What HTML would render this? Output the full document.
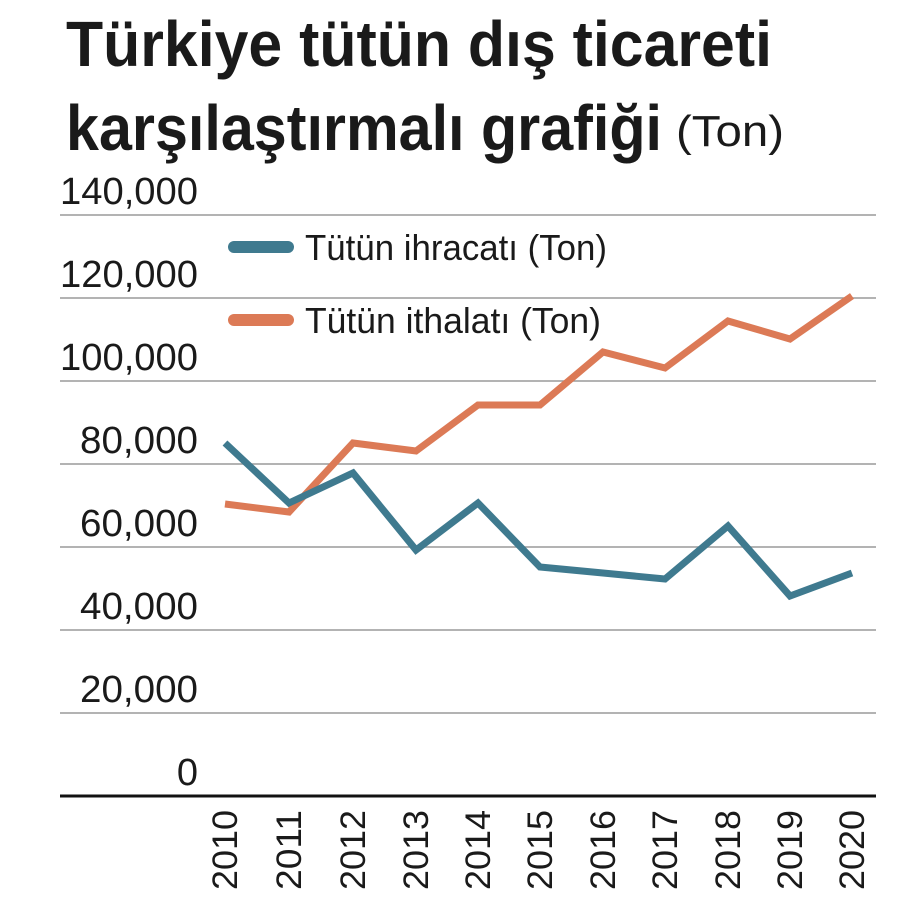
<!DOCTYPE html>
<html><head><meta charset="utf-8"><style>
html,body{margin:0;padding:0;background:#fff;}
svg{display:block;}
text{font-family:"Liberation Sans",sans-serif;fill:#1a1a1a;}
</style></head><body>
<svg width="924" height="902" viewBox="0 0 924 902" xmlns="http://www.w3.org/2000/svg">
<rect width="924" height="902" fill="#fff"/>
<text x="66" y="66" font-size="64" font-weight="bold" textLength="706" lengthAdjust="spacingAndGlyphs">Türkiye tütün dış ticareti</text>
<text x="66" y="150" font-size="64" font-weight="bold" textLength="596" lengthAdjust="spacingAndGlyphs">karşılaştırmalı grafiği</text>
<text x="676" y="146" font-size="44" textLength="108" lengthAdjust="spacingAndGlyphs" fill="#333">(Ton)</text>
<g stroke="#9a9a9a" stroke-width="1.5">
<line x1="60" x2="876" y1="215" y2="215"/>
<line x1="60" x2="876" y1="298" y2="298"/>
<line x1="60" x2="876" y1="381" y2="381"/>
<line x1="60" x2="876" y1="464" y2="464"/>
<line x1="60" x2="876" y1="547" y2="547"/>
<line x1="60" x2="876" y1="630" y2="630"/>
<line x1="60" x2="876" y1="713" y2="713"/>
</g>
<line x1="60" x2="876" y1="796" y2="796" stroke="#111" stroke-width="3"/>
<g font-size="38" text-anchor="end">
<text x="198" y="204" textLength="138" lengthAdjust="spacingAndGlyphs">140,000</text>
<text x="198" y="287" textLength="138" lengthAdjust="spacingAndGlyphs">120,000</text>
<text x="198" y="370" textLength="138" lengthAdjust="spacingAndGlyphs">100,000</text>
<text x="198" y="453" textLength="118" lengthAdjust="spacingAndGlyphs">80,000</text>
<text x="198" y="536" textLength="118" lengthAdjust="spacingAndGlyphs">60,000</text>
<text x="198" y="619" textLength="118" lengthAdjust="spacingAndGlyphs">40,000</text>
<text x="198" y="702" textLength="118" lengthAdjust="spacingAndGlyphs">20,000</text>
<text x="198" y="785">0</text>
</g>
<line x1="234" x2="288" y1="247" y2="247" stroke="#3f7a8f" stroke-width="12" stroke-linecap="round"/>
<line x1="234" x2="288" y1="320" y2="320" stroke="#dc7a56" stroke-width="12" stroke-linecap="round"/>
<text x="305" y="260" font-size="36" textLength="302" lengthAdjust="spacingAndGlyphs">Tütün ihracatı (Ton)</text>
<text x="305" y="333" font-size="36" textLength="296" lengthAdjust="spacingAndGlyphs">Tütün ithalatı (Ton)</text>
<polyline fill="none" stroke="#dc7a56" stroke-width="7" points="225,504 289,512 353,443 416,451 478,405 540,405 603,352 665,368 728,321 790,339 852,296"/>
<polyline fill="none" stroke="#3f7a8f" stroke-width="7" points="225,443 289,503 353,473 416,550 478,503 540,567 603,573 665,579 728,526 790,596 852,573"/>
<g font-size="35">
<text transform="translate(237,890) rotate(-90)" textLength="80" lengthAdjust="spacingAndGlyphs">2010</text>
<text transform="translate(301,890) rotate(-90)" textLength="80" lengthAdjust="spacingAndGlyphs">2011</text>
<text transform="translate(365,890) rotate(-90)" textLength="80" lengthAdjust="spacingAndGlyphs">2012</text>
<text transform="translate(428,890) rotate(-90)" textLength="80" lengthAdjust="spacingAndGlyphs">2013</text>
<text transform="translate(490,890) rotate(-90)" textLength="80" lengthAdjust="spacingAndGlyphs">2014</text>
<text transform="translate(552,890) rotate(-90)" textLength="80" lengthAdjust="spacingAndGlyphs">2015</text>
<text transform="translate(615,890) rotate(-90)" textLength="80" lengthAdjust="spacingAndGlyphs">2016</text>
<text transform="translate(677,890) rotate(-90)" textLength="80" lengthAdjust="spacingAndGlyphs">2017</text>
<text transform="translate(740,890) rotate(-90)" textLength="80" lengthAdjust="spacingAndGlyphs">2018</text>
<text transform="translate(802,890) rotate(-90)" textLength="80" lengthAdjust="spacingAndGlyphs">2019</text>
<text transform="translate(864,890) rotate(-90)" textLength="80" lengthAdjust="spacingAndGlyphs">2020</text>
</g>
</svg>
</body></html>
